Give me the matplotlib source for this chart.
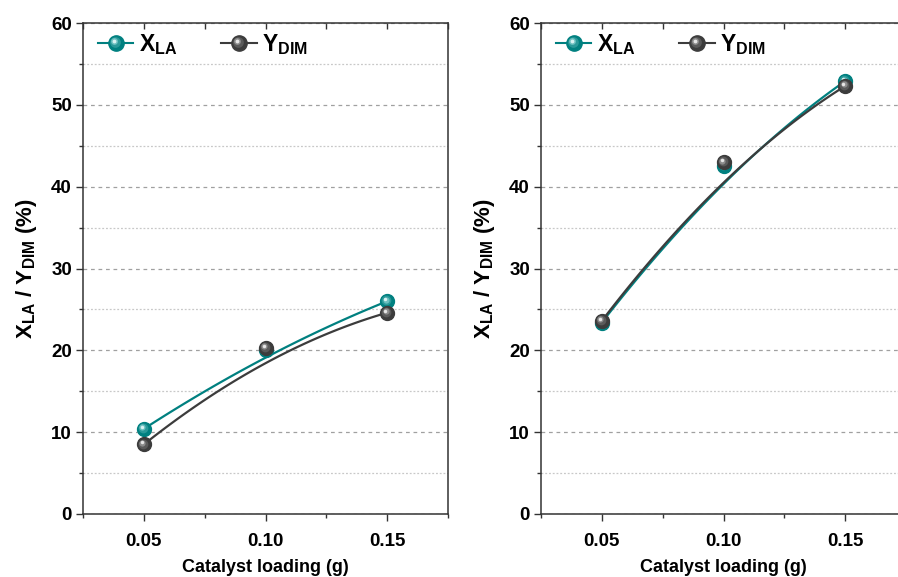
import numpy as np
import matplotlib
matplotlib.use('Agg')
import matplotlib.pyplot as plt
from matplotlib.transforms import offset_copy
from matplotlib.ticker import MultipleLocator
from matplotlib.lines import Line2D
from matplotlib.legend_handler import HandlerBase

plt.rcParams['font.family'] = ['Liberation Sans', 'DejaVu Sans']
plt.rcParams['font.weight'] = 'bold'
plt.rcParams['mathtext.fontset'] = 'custom'
plt.rcParams['mathtext.rm'] = 'Liberation Sans:bold'
plt.rcParams['mathtext.bf'] = 'Liberation Sans:bold'
plt.rcParams['mathtext.it'] = 'Liberation Sans:bold'

# データ
loading = [0.05, 0.10, 0.15]
xla_left = [10.4, 20.0, 26.0]
ydim_left = [8.5, 20.3, 24.6]
xla_right = [23.4, 42.5, 52.9]
ydim_right = [23.6, 43.0, 52.3]

teal = '#008080'
dark = '#3c3c3c'
# 球の陰影用の色 (外側 -> 内側)
teal_shades = ['#2a9999', '#6cc0c0', '#d8f2f2']
dark_shades = ['#5a5a5a', '#8c8c8c', '#e6e6e6']


def bezier(xs, ys, n=100):
    # 3点の2次B-spline (Bezier) 曲線
    t = np.linspace(0, 1, n)
    xs = np.asarray(xs)
    ys = np.asarray(ys)
    bx = (1-t)**2*xs[0] + 2*t*(1-t)*xs[1] + t**2*xs[2]
    by = (1-t)**2*ys[0] + 2*t*(1-t)*ys[1] + t**2*ys[2]
    return bx, by


def ball_artists(x, y, color, shades, trans, fig, ms=10):
    arts = [Line2D(x, y, ls='none', marker='o', ms=ms, color=color, mec=color,
                   transform=trans)]
    sizes = [ms*0.7, ms*0.45, ms*0.25]
    offs = [0.6, 1.1, 1.4]
    for s, c, o in zip(sizes, shades, offs):
        tr = offset_copy(trans, fig=fig, x=-o, y=o, units='points')
        arts.append(Line2D(x, y, ls='none', marker='o', ms=s, color=c, mec='none',
                           transform=tr))
    return arts


def balls(ax, x, y, color, shades, z):
    # 球っぽいマーカー
    for i, a in enumerate(ball_artists(x, y, color, shades, ax.transData, ax.figure)):
        a.set_zorder(z + i*0.01)
        a.set_clip_on(False)
        ax.add_line(a)


class BallHandler(HandlerBase):
    def __init__(self, color, shades):
        super().__init__()
        self.color = color
        self.shades = shades

    def create_artists(self, legend, orig, xd, yd, w, h, fs, trans):
        y = yd + h/2
        ln = Line2D([xd, xd+w], [y, y], color=self.color, lw=1.5, transform=trans)
        return [ln] + ball_artists([xd+w/2], [y], self.color, self.shades,
                                   trans, legend.figure, ms=11)


fig = plt.figure(figsize=(8.98, 5.77), dpi=100)
W, H = 898, 577
ax1 = fig.add_axes([83/W, 63/H, 365/W, 491/H])
ax2 = fig.add_axes([541/W, 63/H, 365/W, 491/H])

for ax, xla, ydim in [(ax1, xla_left, ydim_left), (ax2, xla_right, ydim_right)]:
    bx, by = bezier(loading, xla)
    ax.plot(bx, by, color=teal, lw=1.6, zorder=3)
    bx, by = bezier(loading, ydim)
    ax.plot(bx, by, color=dark, lw=1.6, zorder=3)
    balls(ax, loading, xla, teal, teal_shades, 4)
    balls(ax, loading, ydim, dark, dark_shades, 5)

    ax.set_xlim(0.025, 0.175)
    ax.set_ylim(0, 60)
    ax.xaxis.set_major_locator(MultipleLocator(0.05))
    ax.xaxis.set_minor_locator(MultipleLocator(0.025))
    ax.yaxis.set_major_locator(MultipleLocator(10))
    ax.yaxis.set_minor_locator(MultipleLocator(5))
    ax.set_xticks([0.05, 0.10, 0.15])
    ax.set_xticklabels(['0.05', '0.10', '0.15'])
    ax.grid(True, which='major', axis='y', color='#a0a0a0', ls=(0, (3, 3)), lw=0.9)
    ax.grid(True, which='minor', axis='y', color='#c8c8c8', ls=(0, (1.5, 1.5)), lw=0.9)
    ax.tick_params(axis='both', which='major', direction='out', length=5,
                   width=1, labelsize=13.5, color='#333333', pad=3)
    ax.tick_params(axis='both', which='minor', direction='out', length=3,
                   width=1, color='#333333')
    ax.tick_params(axis='x', which='major', pad=9)
    for sp in ax.spines.values():
        sp.set_color('#333333')
        sp.set_linewidth(1.1)
    # 上側の目盛りは内向き
    sec = ax.secondary_xaxis('top')
    sec.xaxis.set_major_locator(MultipleLocator(0.025))
    sec.tick_params(direction='in', length=4, width=1, color='#333333', labelsize=0)
    sec.set_xticklabels([])
    sec.spines['top'].set_visible(False)

    for lab in ax.get_xticklabels() + ax.get_yticklabels():
        lab.set_fontweight('bold')
    ax.set_xlabel('Catalyst loading (g)', fontsize=13, fontweight='bold', labelpad=6)
    ax.set_ylabel(r'$\mathregular{X_{LA}}$ / $\mathregular{Y_{DIM}}$ (%)',
                  fontsize=16, fontweight='bold', labelpad=9)

    h1 = Line2D([], [], color=teal)
    h2 = Line2D([], [], color=dark)
    ax.legend([h1, h2], [r'$\mathregular{X_{LA}}$', r'$\mathregular{Y_{DIM}}$'],
              handler_map={h1: BallHandler(teal, teal_shades), h2: BallHandler(dark, dark_shades)},
              loc='upper left', ncol=2, frameon=False, fontsize=16.5,
              handlelength=1.55, handletextpad=0.25, columnspacing=1.9,
              borderaxespad=0.25, bbox_to_anchor=(0.0, 1.012))

fig.savefig('out.png', dpi=100)
